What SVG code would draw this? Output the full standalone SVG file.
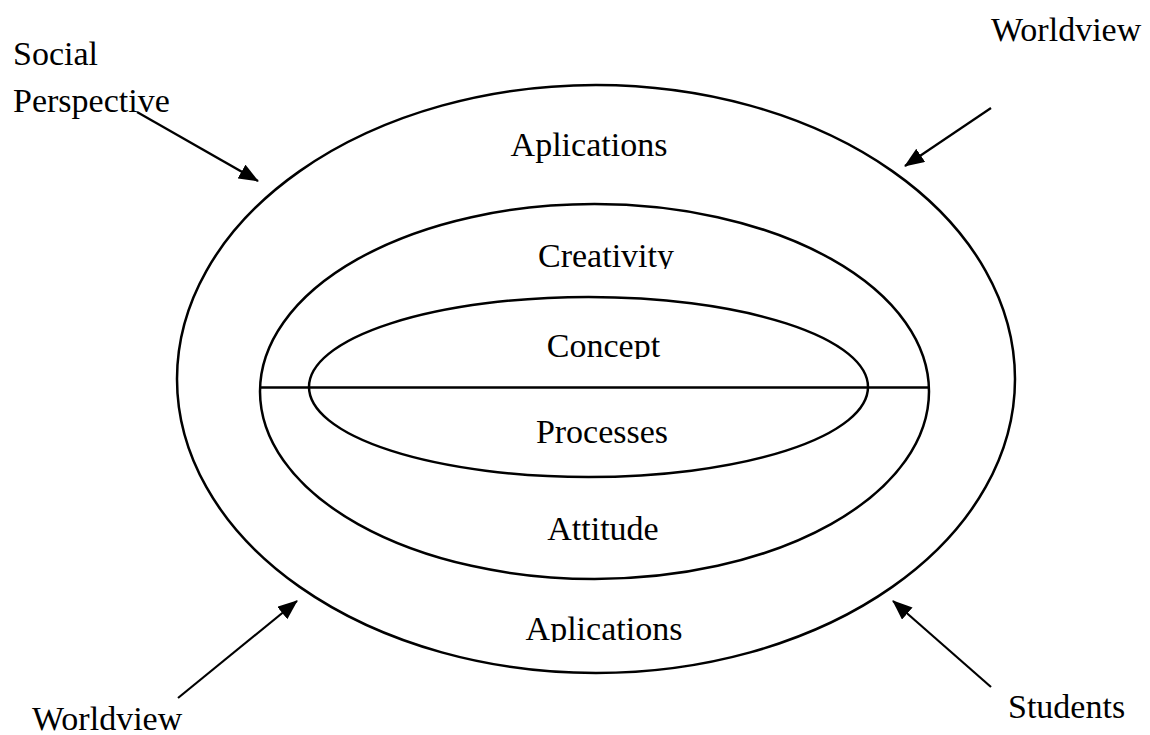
<svg xmlns="http://www.w3.org/2000/svg" width="1150" height="735" viewBox="0 0 1150 735">
<style>
.ring{fill:none;stroke:#000;stroke-width:2.5}
.lbl{font-family:"Liberation Serif","Times New Roman",serif;font-size:34px;fill:#000}
.mid{text-anchor:middle}
.conn{stroke:#000;stroke-width:2.2;fill:none;marker-end:url(#ah)}
</style>
<defs>
<marker id="ah" markerUnits="userSpaceOnUse" markerWidth="20" markerHeight="16" refX="19" refY="8" orient="auto">
<path d="M0,0 L20,8 L0,16 z" fill="#000"/>
</marker>
<clipPath id="c1"><rect x="0" y="0" width="1150" height="269"/></clipPath>
<clipPath id="c2"><rect x="0" y="0" width="1150" height="359"/></clipPath>
<clipPath id="c3"><rect x="0" y="0" width="1150" height="642"/></clipPath>
</defs>
<rect width="1150" height="735" fill="#fff"/>
<g id="outer">
<ellipse class="ring" cx="596" cy="379" rx="419" ry="294"/>
<text class="lbl mid" x="589" y="156">Aplications</text>
<text class="lbl mid" x="604" y="640" clip-path="url(#c3)">Aplications</text>
</g>
<g id="middle">
<ellipse class="ring" cx="594.5" cy="391.5" rx="334.5" ry="187.5"/>
<text class="lbl mid" x="606" y="267" clip-path="url(#c1)">Creativity</text>
<text class="lbl mid" x="603" y="540">Attitude</text>
</g>
<g id="inner">
<ellipse class="ring" cx="588.5" cy="387" rx="279.5" ry="90"/>
<line x1="260" y1="387.5" x2="929" y2="387.5" stroke="#000" stroke-width="2.5"/>
<text class="lbl mid" x="603.5" y="357" clip-path="url(#c2)">Concept</text>
<text class="lbl mid" x="602" y="443">Processes</text>
</g>
<g id="social-perspective">
<text class="lbl" x="13" y="65">Social</text>
<text class="lbl" x="13" y="112">Perspective</text>
</g>
<g id="worldview-top"><text class="lbl" x="991" y="41">Worldview</text></g>
<g id="worldview-bottom"><text class="lbl" x="32" y="730">Worldview</text></g>
<g id="students"><text class="lbl" x="1008" y="718">Students</text></g>
<g id="connectors">
<line class="conn" x1="137" y1="112" x2="258" y2="181"/>
<line class="conn" x1="991" y1="108" x2="905" y2="166"/>
<line class="conn" x1="178" y1="698" x2="297" y2="601"/>
<line class="conn" x1="991" y1="687" x2="893" y2="601"/>
</g>
</svg>
